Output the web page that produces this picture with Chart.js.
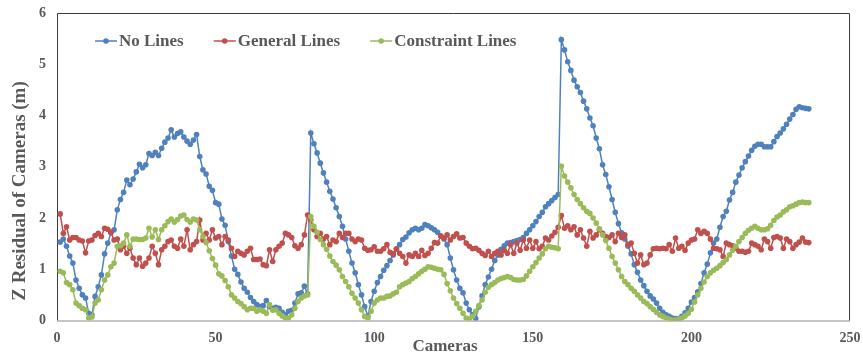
<!DOCTYPE html>
<html>
<head>
<meta charset="utf-8">
<script src="https://cdn.jsdelivr.net/npm/chart.js@4.4.0/dist/chart.umd.min.js"></script>
<style>
    html, body { margin: 0; padding: 0; background: #fff; }
    #wrap { width: 863px; height: 356px; }
</style>
</head>
<body>
<div id="wrap"><canvas id="residual-chart" width="863" height="356"></canvas></div>
<script>
// Z residual (m) per camera
const seriesNames = ['No Lines', 'General Lines', 'Constraint Lines'];

const noLines = [
    1.53, 1.59, 1.45, 1.26, 1.12, 0.79, 0.63, 0.50, 0.44, 0.14,
    0.11, 0.47, 0.66, 0.89, 1.30, 1.51, 1.71, 1.77, 2.16, 2.36,
    2.50, 2.74, 2.65, 2.76, 2.90, 3.05, 2.98, 3.04, 3.26, 3.22,
    3.28, 3.22, 3.36, 3.48, 3.56, 3.72, 3.58, 3.65, 3.68, 3.58,
    3.50, 3.44, 3.52, 3.63, 3.20, 2.94, 2.86, 2.62, 2.54, 2.30,
    2.27, 1.98, 1.86, 1.54, 1.26, 1.00, 0.90, 0.75, 0.63, 0.55,
    0.45, 0.37, 0.31, 0.27, 0.29, 0.39, 0.27, 0.24, 0.26, 0.24,
    0.16, 0.11, 0.18, 0.20, 0.34, 0.52, 0.54, 0.67, 0.52, 3.66,
    3.45, 3.27, 3.07, 2.88, 2.70, 2.52, 2.37, 2.20, 2.03, 1.84,
    1.59, 1.35, 1.12, 0.93, 0.70, 0.50, 0.27, 0.08, 0.37, 0.57,
    0.74, 0.86, 0.98, 1.07, 1.17, 1.28, 1.39, 1.48, 1.58, 1.63,
    1.71, 1.77, 1.80, 1.77, 1.80, 1.87, 1.85, 1.81, 1.77, 1.72,
    1.65, 1.59, 1.48, 1.22, 0.99, 0.79, 0.63, 0.54, 0.34, 0.21,
    0.11, 0.04, 0.27, 0.48, 0.70, 0.85, 1.00, 1.17, 1.28, 1.39,
    1.46, 1.51, 1.52, 1.54, 1.56, 1.58, 1.62, 1.70, 1.77, 1.85,
    1.93, 2.03, 2.11, 2.22, 2.28, 2.34, 2.40, 2.46, 5.48, 5.28,
    5.05, 4.88, 4.69, 4.56, 4.45, 4.28, 4.13, 3.95, 3.80, 3.56,
    3.35, 3.04, 2.85, 2.61, 2.36, 2.11, 1.89, 1.71, 1.59, 1.45,
    1.30, 1.09, 0.94, 0.79, 0.68, 0.57, 0.48, 0.42, 0.34, 0.24,
    0.16, 0.11, 0.08, 0.05, 0.04, 0.04, 0.08, 0.15, 0.24, 0.36,
    0.45, 0.56, 0.72, 0.93, 1.10, 1.32, 1.51, 1.59, 1.82, 2.03,
    2.13, 2.35, 2.50, 2.70, 2.84, 2.98, 3.10, 3.21, 3.32, 3.40,
    3.44, 3.44, 3.39, 3.39, 3.39, 3.49, 3.59, 3.66, 3.74, 3.83,
    3.93, 4.02, 4.12, 4.17, 4.15, 4.14, 4.13
];

const generalLines = [
    2.08, 1.70, 1.83, 1.57, 1.62, 1.62, 1.57, 1.55, 1.32, 1.55,
    1.57, 1.66, 1.70, 1.64, 1.80, 1.78, 1.72, 1.57, 1.59, 1.38,
    1.45, 1.31, 1.41, 1.22, 1.09, 1.22, 1.06, 1.12, 1.22, 1.45,
    1.31, 1.09, 1.38, 1.45, 1.54, 1.57, 1.45, 1.41, 1.59, 1.45,
    1.77, 1.38, 1.48, 1.54, 1.96, 1.57, 1.70, 1.57, 1.77, 1.61,
    1.64, 1.48, 1.64, 1.57, 1.41, 1.25, 1.35, 1.31, 1.28, 1.35,
    1.41, 1.19, 1.19, 1.20, 1.09, 1.07, 1.38, 1.15, 1.38, 1.45,
    1.51, 1.70, 1.67, 1.62, 1.46, 1.41, 1.48, 1.67, 2.06, 1.96,
    1.77, 1.64, 1.70, 1.59, 1.64, 1.48, 1.57, 1.54, 1.70, 1.62,
    1.70, 1.70, 1.59, 1.54, 1.59, 1.57, 1.41, 1.37, 1.38, 1.44,
    1.35, 1.35, 1.40, 1.48, 1.33, 1.30, 1.40, 1.31, 1.25, 1.12,
    1.28, 1.25, 1.31, 1.25, 1.37, 1.27, 1.31, 1.41, 1.52, 1.51,
    1.65, 1.61, 1.67, 1.57, 1.64, 1.69, 1.61, 1.62, 1.51, 1.45,
    1.40, 1.41, 1.37, 1.31, 1.27, 1.35, 1.25, 1.31, 1.35, 1.28,
    1.37, 1.31, 1.48, 1.31, 1.51, 1.37, 1.57, 1.41, 1.57, 1.41,
    1.54, 1.40, 1.45, 1.61, 1.57, 1.65, 1.72, 1.82, 2.05, 1.80,
    1.85, 1.77, 1.83, 1.67, 1.77, 1.61, 1.45, 1.74, 1.61, 1.67,
    1.77, 1.70, 1.64, 1.62, 1.67, 1.54, 1.70, 1.62, 1.67, 1.48,
    1.51, 1.31, 1.12, 1.28, 1.09, 1.12, 1.28, 1.40, 1.41, 1.40,
    1.41, 1.40, 1.48, 1.35, 1.61, 1.41, 1.45, 1.37, 1.51, 1.57,
    1.59, 1.77, 1.70, 1.74, 1.70, 1.59, 1.41, 1.40, 1.38, 1.25,
    1.51, 1.48, 1.46, 1.41, 1.35, 1.35, 1.33, 1.35, 1.51, 1.48,
    1.45, 1.38, 1.59, 1.54, 1.41, 1.62, 1.64, 1.61, 1.41, 1.59,
    1.54, 1.41, 1.48, 1.53, 1.61, 1.53, 1.52
];

const constraintLines = [
    0.96, 0.93, 0.74, 0.70, 0.60, 0.34, 0.29, 0.24, 0.21, 0.05,
    0.07, 0.34, 0.40, 0.60, 0.79, 0.89, 1.05, 1.12, 1.45, 1.46,
    1.51, 1.67, 1.45, 1.59, 1.59, 1.58, 1.58, 1.61, 1.80, 1.63,
    1.77, 1.58, 1.77, 1.85, 1.93, 1.98, 1.92, 1.97, 2.04, 2.06,
    1.97, 1.92, 1.98, 1.96, 1.77, 1.64, 1.52, 1.36, 1.21, 1.08,
    0.91, 0.87, 0.78, 0.66, 0.50, 0.44, 0.37, 0.33, 0.27, 0.21,
    0.24, 0.24, 0.18, 0.21, 0.18, 0.14, 0.31, 0.20, 0.21, 0.14,
    0.09, 0.05, 0.05, 0.11, 0.24, 0.37, 0.44, 0.48, 0.50, 2.03,
    1.84, 1.72, 1.58, 1.48, 1.39, 1.26, 1.15, 1.08, 0.99, 0.86,
    0.76, 0.66, 0.53, 0.44, 0.34, 0.21, 0.08, 0.05, 0.18, 0.34,
    0.40, 0.44, 0.44, 0.47, 0.48, 0.52, 0.55, 0.66, 0.70, 0.73,
    0.76, 0.82, 0.86, 0.91, 0.96, 1.00, 1.05, 1.04, 1.02, 1.00,
    0.99, 0.90, 0.72, 0.58, 0.44, 0.33, 0.24, 0.14, 0.05, 0.03,
    0.08, 0.18, 0.29, 0.40, 0.55, 0.65, 0.70, 0.74, 0.79, 0.82,
    0.84, 0.86, 0.84, 0.80, 0.79, 0.79, 0.80, 0.87, 0.96, 1.05,
    1.13, 1.22, 1.30, 1.40, 1.45, 1.43, 1.42, 1.40, 3.01, 2.82,
    2.70, 2.59, 2.46, 2.36, 2.28, 2.20, 2.13, 2.09, 2.00, 1.90,
    1.79, 1.67, 1.56, 1.41, 1.25, 1.12, 0.99, 0.86, 0.76, 0.70,
    0.63, 0.57, 0.50, 0.44, 0.37, 0.33, 0.27, 0.22, 0.16, 0.11,
    0.08, 0.05, 0.03, 0.01, 0.01, 0.03, 0.05, 0.09, 0.14, 0.22,
    0.36, 0.50, 0.63, 0.75, 0.86, 0.93, 0.98, 1.02, 1.07, 1.13,
    1.19, 1.28, 1.37, 1.45, 1.54, 1.62, 1.70, 1.76, 1.80, 1.84,
    1.80, 1.77, 1.77, 1.79, 1.86, 1.95, 2.02, 2.06, 2.12, 2.16,
    2.22, 2.24, 2.27, 2.30, 2.31, 2.30, 2.30
];

// camera numbers run 1..N along the x axis
const cameras = noLines.map((v, i) => i + 1);

const xTicks = [0, 50, 100, 150, 200, 250];
const yTicks = [0, 1, 2, 3, 4, 5, 6];
const xTitle = 'Cameras';
const yTitle = 'Z Residual of Cameras (m)';

const FONT = "'Liberation Serif', 'Times New Roman', serif";
const TEXT = '#595959';

function toPoints(values) {
    return values.map((v, i) => ({ x: cameras[i], y: v }));
}

function makeSeries(label, values, color, order) {
    return {
        label: label,
        data: toPoints(values),
        borderColor: color,
        backgroundColor: color,
        borderWidth: 1.5,
        pointRadius: 2.8,
        pointBorderWidth: 0,
        pointHoverRadius: 2.8,
        tension: 0,
        order: order
    };
}

// plot frame: dark top/left/right, grey axis line at the bottom
const framePlugin = {
    id: 'frame',
    beforeDatasetsDraw(chart) {
        const { ctx, chartArea: a } = chart;
        ctx.save();
        ctx.lineWidth = 1;
        ctx.strokeStyle = '#3c3c3c';
        ctx.beginPath();
        ctx.moveTo(a.left + 0.5, a.bottom);
        ctx.lineTo(a.left + 0.5, a.top + 0.5);
        ctx.lineTo(a.right - 0.5, a.top + 0.5);
        ctx.lineTo(a.right - 0.5, a.bottom);
        ctx.stroke();
        ctx.strokeStyle = '#8c8c8c';
        ctx.beginPath();
        ctx.moveTo(a.left, a.bottom + 0.5);
        ctx.lineTo(a.right, a.bottom + 0.5);
        ctx.stroke();
        ctx.restore();
    }
};

// axis titles sit off-centre in the original, so place them by hand
const titlesPlugin = {
    id: 'axisTitles',
    afterDraw(chart) {
        const { ctx, chartArea: a } = chart;
        ctx.save();
        ctx.fillStyle = TEXT;
        ctx.textAlign = 'center';
        ctx.textBaseline = 'middle';
        ctx.font = 'bold 17px ' + FONT;
        ctx.fillText(xTitle, a.left + 388, 347);
        ctx.font = 'bold 19px ' + FONT;
        ctx.translate(20, a.top + 178);
        ctx.rotate(-Math.PI / 2);
        ctx.fillText(yTitle, 0, 0);
        ctx.restore();
    }
};

// legend drawn inside the plot, Excel style (line with a dot)
const legendPlugin = {
    id: 'insideLegend',
    afterDraw(chart) {
        const { ctx, chartArea: a } = chart;
        let x = a.left + 38;
        const y = a.top + 28;
        ctx.save();
        ctx.font = 'bold 17px ' + FONT;
        ctx.textBaseline = 'middle';
        chart.data.datasets.forEach(ds => {
            ctx.strokeStyle = ds.borderColor;
            ctx.lineWidth = 1.5;
            ctx.beginPath();
            ctx.moveTo(x, y);
            ctx.lineTo(x + 22, y);
            ctx.stroke();
            ctx.fillStyle = ds.borderColor;
            ctx.beginPath();
            ctx.arc(x + 11, y, 2.8, 0, Math.PI * 2);
            ctx.fill();
            ctx.fillStyle = TEXT;
            ctx.fillText(ds.label, x + 24, y + 1);
            x += 24 + ctx.measureText(ds.label).width + 30;
        });
        ctx.restore();
    }
};

const ctx = document.getElementById('residual-chart').getContext('2d');

new Chart(ctx, {
    type: 'line',
    data: {
        datasets: [
            makeSeries(seriesNames[0], noLines, '#4F81BD', 3),
            makeSeries(seriesNames[1], generalLines, '#C0504D', 2),
            makeSeries(seriesNames[2], constraintLines, '#9BBB59', 1)
        ]
    },
    options: {
        responsive: false,
        animation: false,
        devicePixelRatio: 1,
        layout: { padding: { top: 13, right: 13, bottom: 0, left: 0 } },
        plugins: {
            legend: { display: false },
            tooltip: { enabled: false }
        },
        scales: {
            x: {
                type: 'linear',
                min: 0,
                max: 250,
                afterBuildTicks: scale => { scale.ticks = xTicks.map(v => ({ value: v })); },
                afterFit: scale => {
                    scale.height = 35.5;
                    scale.paddingLeft = 0;
                    scale.paddingRight = 0;
                },
                grid: { display: false, drawTicks: false },
                border: { display: false },
                ticks: {
                    padding: 9,
                    color: TEXT,
                    font: { family: FONT, size: 14, weight: 'bold' }
                }
            },
            y: {
                min: 0,
                max: 6,
                afterBuildTicks: scale => { scale.ticks = yTicks.map(v => ({ value: v })); },
                afterFit: scale => {
                    scale.width = 57;
                    scale.paddingTop = 0;
                    scale.paddingBottom = 0;
                },
                grid: { display: false, drawTicks: false },
                border: { display: false },
                ticks: {
                    padding: 11,
                    color: TEXT,
                    font: { family: FONT, size: 14, weight: 'bold' }
                }
            }
        }
    },
    plugins: [framePlugin, titlesPlugin, legendPlugin]
});
</script>
</body>
</html>
